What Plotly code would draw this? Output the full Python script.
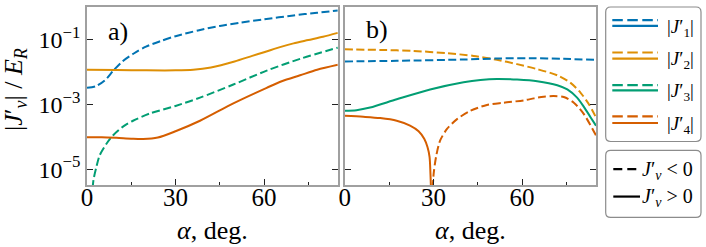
import plotly.graph_objects as go

# ---------------- data ----------------
# panel a)
a_J1_x = [0, 3, 6, 9, 12, 16, 20, 25, 30, 38, 45, 52, 60, 70, 78, 85]
a_J1_y = [3.22e-3, 3.61e-3, 5.38e-3, 1.11e-2, 2.09e-2, 3.75e-2, 5.98e-2, 8.89e-2,
          0.126, 0.192, 0.261, 0.330, 0.416, 0.551, 0.664, 0.782]          # J1' < 0

a_J2_x = [0, 10, 20, 30, 36, 42, 50, 56, 60, 66, 70, 75, 80, 85]
a_J2_y = [1.164e-2, 1.138e-2, 1.112e-2, 1.112e-2, 1.164e-2, 1.371e-2, 2.089e-2,
          3.105e-2, 4.018e-2, 5.984e-2, 7.551e-2, 9.55e-2, 0.1205, 0.1596]   # J2' > 0

a_J3_x = [1.6, 2.2, 3.2, 4.3, 6.6, 8.8, 12.2, 15.6, 21.3, 30, 38.3, 49.6, 60.9, 72.2, 85]
a_J3_y = [1.14e-6, 4.62e-6, 1.18e-5, 2.67e-5, 6.05e-5, 1.09e-4, 2.04e-4, 3.10e-4,
          5.20e-4, 8.89e-4, 1.60e-3, 4.06e-3, 1.09e-2, 2.52e-2, 5.57e-2]    # J3' < 0

a_J4_x = [0, 5, 10, 15, 19, 24, 30, 38.3, 49.6, 60.9, 66, 72.2, 78, 85]
a_J4_y = [9.66e-5, 9.60e-5, 9.20e-5, 8.70e-5, 8.50e-5, 9.40e-5, 1.47e-4, 3.10e-4,
          1.07e-3, 3.22e-3, 5.14e-3, 7.82e-3, 1.16e-2, 1.65e-2]             # J4' > 0

# panel b)
b_J1_x = [0, 17.6, 40.2, 51.5, 62.8, 74.1, 85]
b_J1_y = [0.0209, 0.0219, 0.0240, 0.0258, 0.0264, 0.0252, 0.0235]          # J1' < 0

b_J2_x = [0, 12, 23.3, 34.6, 43.6, 51.5, 58.3, 65, 71.9, 76.4, 79.8, 82.6, 85]
b_J2_y = [0.0495, 0.0473, 0.0442, 0.0375, 0.0310, 0.0235, 0.0173, 0.0122,
          0.00782, 0.00457, 0.00226, 0.00100, 0.000393]                     # J2' < 0

b_J3_x = [0, 4, 8.6, 17.6, 28.9, 40.2, 45.9, 51.5, 58.3, 65.1, 71.9, 75.3, 78.6, 80.9, 83.2, 85]
b_J3_y = [6.27e-4, 6.56e-4, 7.91e-4, 1.42e-3, 2.86e-3, 4.79e-3, 5.64e-3, 6.05e-3,
          5.77e-3, 5.14e-3, 3.88e-3, 2.86e-3, 1.60e-3, 8.30e-4, 3.93e-4, 2.19e-4]  # J3' > 0

b_J4p_x = [0, 6.3, 12, 17.6, 22.1, 25, 26.9, 28, 28.7, 29, 29.3]
b_J4p_y = [4.42e-4, 4.11e-4, 3.75e-4, 3.10e-4, 2.19e-4, 1.47e-4, 8.59e-5, 4.79e-5,
           2.38e-5, 7.38e-6, 1.14e-6]                                       # J4' > 0

b_J4n_x = [29.6, 30.1, 31, 32.3, 34.6, 38, 42.5, 48.1, 53.8, 60.6, 64, 67.3, 70.7,
           74.1, 77.5, 80.9, 85]
b_J4n_y = [1.14e-6, 7.38e-6, 2.67e-5, 7.64e-5, 1.73e-4, 3.49e-4, 6.27e-4, 9.55e-4,
           1.12e-3, 1.32e-3, 1.52e-3, 1.71e-3, 1.79e-3, 1.67e-3, 1.12e-3, 4.95e-4, 1.09e-4]  # J4' < 0

x_tickvals = [0, 30, 60]
y_tickvals = [1e-5, 1e-3, 1e-1]
y_ticktext = ["10<sup>\u22125</sup>", "10<sup>\u22123</sup>", "10<sup>\u22121</sup>"]

legend_labels = ["|<i>J</i>\u2032<sub>1</sub>|", "|<i>J</i>\u2032<sub>2</sub>|",
                 "|<i>J</i>\u2032<sub>3</sub>|", "|<i>J</i>\u2032<sub>4</sub>|"]
sign_labels = ["<i>J</i>\u2032<sub><i>v</i></sub> &lt; 0", "<i>J</i>\u2032<sub><i>v</i></sub> &gt; 0"]

# ---------------- styling ----------------
BLUE, ORANGE, GREEN, RED = "#0173B2", "#DE8F05", "#029E73", "#D55E00"
colors = [BLUE, ORANGE, GREEN, RED]
FONT = "Liberation Serif"
DASH = "8px,3.5px"
LW = 2

W, H = 706, 247
ML, MR, MT, MB = 87, 110, 5, 62
PW, PH = W - ML - MR, H - MT - MB


def px(x):
    return (x - ML) / PW


def py(y):
    return (H - MB - y) / PH


fig = go.Figure()


def add(x, y, color, dashed, axis):
    fig.add_trace(go.Scatter(
        x=x, y=y, mode="lines",
        line=dict(color=color, width=LW, dash=DASH if dashed else "solid",
                  shape="spline", smoothing=0.8),
        xaxis="x" if axis == 1 else "x2", yaxis="y" if axis == 1 else "y2",
        showlegend=False, hoverinfo="skip"))


add(a_J1_x, a_J1_y, BLUE, True, 1)
add(a_J2_x, a_J2_y, ORANGE, False, 1)
add(a_J3_x, a_J3_y, GREEN, True, 1)
add(a_J4_x, a_J4_y, RED, False, 1)

add(b_J2_x, b_J2_y, ORANGE, True, 2)
add(b_J1_x, b_J1_y, BLUE, True, 2)
add(b_J3_x, b_J3_y, GREEN, False, 2)
add(b_J4p_x, b_J4p_y, RED, False, 2)
add(b_J4n_x, b_J4n_y, RED, True, 2)

frame = dict(showline=True, linecolor="#a0a0a0", linewidth=1.8, mirror=True,
             showgrid=False, zeroline=False)

xcommon = dict(range=[0, 85], tickvals=x_tickvals, ticks="inside", ticklen=6,
               tickwidth=1, tickcolor="#222", ticklabelstandoff=-11,
               minor=dict(tickvals=[15, 45, 75], ticks="inside", ticklen=3.5,
                          tickwidth=1, tickcolor="#222"),
               tickfont=dict(family=FONT, size=25, color="black"), **frame)
ycommon = dict(type="log", range=[-5.49, 0.0], tickvals=y_tickvals, ticktext=y_ticktext,
               ticks="inside", ticklen=6, tickwidth=1, tickcolor="#222",
               tickfont=dict(family=FONT, size=24, color="black"),
               showline=True, linecolor="#a0a0a0", linewidth=1.8, mirror="ticks",
               showgrid=False, zeroline=False)

x2_left = px(344.7)
fig.update_layout(
    width=W, height=H,
    margin=dict(l=ML, r=MR, t=MT, b=MB),
    paper_bgcolor="white", plot_bgcolor="white",
    xaxis=dict(domain=[0, px(337.8)], anchor="y", **xcommon),
    yaxis=dict(domain=[0, 1], anchor="x", **ycommon),
    xaxis2=dict(domain=[x2_left, 1.0], anchor="y2", **xcommon),
    yaxis2=dict(domain=[0, 1], anchor="x2", showticklabels=False,
                **{k: v for k, v in ycommon.items() if k != "tickfont"}),
    showlegend=False,
)

ann = []
# axis titles
for cx in [(87 + 338) / 2, (344.7 + 596) / 2]:
    ann.append(dict(text="<i>\u03b1</i>, deg.", x=px(cx), y=py(231), xref="paper", yref="paper",
                    showarrow=False, xanchor="center", yanchor="middle",
                    font=dict(family=FONT, size=26, color="black")))
ann.append(dict(text="|<i>J</i>\u2032<sub><i>v</i></sub>| / <i>E</i><sub><i>R</i></sub>",
                x=px(15), y=py(89), xref="paper", yref="paper", textangle=-90,
                showarrow=False, xanchor="center", yanchor="middle",
                font=dict(family=FONT, size=26, color="black")))
# panel labels
ann.append(dict(text="a)", x=px(106), y=py(30), xref="paper", yref="paper", showarrow=False,
                xanchor="left", yanchor="middle", font=dict(family=FONT, size=26, color="black")))
ann.append(dict(text="b)", x=px(364), y=py(28), xref="paper", yref="paper", showarrow=False,
                xanchor="left", yanchor="middle", font=dict(family=FONT, size=26, color="black")))

shapes = []


def rounded_box(x0, y0, x1, y1, r=5):
    # pixel coords (y downward) -> paper path
    rx, ry = r / PW, r / PH
    X0, X1 = px(x0), px(x1)
    Y0, Y1 = py(y0), py(y1)  # Y0 top (larger), Y1 bottom
    path = (f"M {X0+rx},{Y0} L {X1-rx},{Y0} Q {X1},{Y0} {X1},{Y0-ry} "
            f"L {X1},{Y1+ry} Q {X1},{Y1} {X1-rx},{Y1} L {X0+rx},{Y1} "
            f"Q {X0},{Y1} {X0},{Y1+ry} L {X0},{Y0-ry} Q {X0},{Y0} {X0+rx},{Y0} Z")
    return dict(type="path", path=path, xref="paper", yref="paper",
                line=dict(color="#8c8c8c", width=1.2), fillcolor="white", layer="above")


shapes.append(rounded_box(605.7, 5, 701, 141))
shapes.append(rounded_box(605.7, 150, 701, 217.7))

dash_y = [18.3, 51, 84, 115.7]
solid_y = [24, 57.3, 89.3, 122.3]
text_y = [26, 59, 91, 124]
for c, lab, dy, sy, ty in zip(colors, legend_labels, dash_y, solid_y, text_y):
    shapes.append(dict(type="line", xref="paper", yref="paper", x0=px(612.3), x1=px(658),
                       y0=py(dy), y1=py(dy), line=dict(color=c, width=2.2, dash="10.5px,4.5px"),
                       layer="above"))
    shapes.append(dict(type="line", xref="paper", yref="paper", x0=px(612.3), x1=px(658),
                       y0=py(sy), y1=py(sy), line=dict(color=c, width=2.2), layer="above"))
    ann.append(dict(text=lab, x=px(665), y=py(ty), xref="paper", yref="paper", showarrow=False,
                    xanchor="left", yanchor="middle", font=dict(family=FONT, size=19, color="black")))

shapes.append(dict(type="line", xref="paper", yref="paper", x0=px(613.3), x1=px(638),
                   y0=py(169), y1=py(169), line=dict(color="black", width=2.2, dash="9px,5px"),
                   layer="above"))
shapes.append(dict(type="line", xref="paper", yref="paper", x0=px(613.3), x1=px(640),
                   y0=py(196.7), y1=py(196.7), line=dict(color="black", width=2.2), layer="above"))
for lab, ty in zip(sign_labels, [170, 198]):
    ann.append(dict(text=lab, x=px(640), y=py(ty), xref="paper", yref="paper", showarrow=False,
                    xanchor="left", yanchor="middle", font=dict(family=FONT, size=20, color="black")))

fig.update_layout(annotations=ann, shapes=shapes)
fig.write_html("out.html", config={"displayModeBar": False},
               post_script="document.body.style.margin='0';document.body.style.overflow='hidden';")
